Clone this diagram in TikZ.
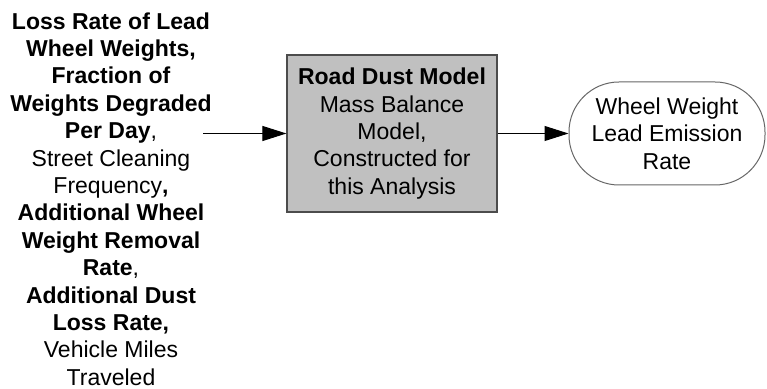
\documentclass[tikz,border=0pt]{standalone}
\usepackage{fontspec}
\setmainfont{Liberation Sans}
\usetikzlibrary{arrows.meta,positioning}
\definecolor{boxgray}{HTML}{C0C0C0}
\tikzset{model/.style={draw=black!70, fill=boxgray, line width=0.6pt,
minimum width=105pt, minimum height=78.5pt, align=center},
outbox/.style={draw=black!60, line width=0.5pt, rounded corners=25pt,
minimum width=98pt, minimum height=51.5pt, align=center},
flow/.style={-{Triangle[length=12pt,width=7.5pt]}, line width=0.5pt}}

\begin{document}
\begin{tikzpicture}[x=0.5pt,y=-0.5pt,font=\fontsize{11.5}{13.7}\selectfont,inner sep=0pt]
	\useasboundingbox (0,0) rectangle (767,389);
	% inputs
	\node[align=center] (inputs) at (111,199) {\textbf{Loss Rate of Lead}\\
		\textbf{Wheel Weights,}\\ \textbf{Fraction of}\\ \textbf{Weights Degraded}\\
		\textbf{Per Day},\\ Street Cleaning\\ Frequency\textbf{,}\\
		\textbf{Additional Wheel}\\ \textbf{Weight Removal}\\ \textbf{Rate},\\
		\textbf{Additional Dust}\\ \textbf{Loss Rate,}\\ Vehicle Miles\\ Traveled};
	\coordinate (start) at (203,133.5);
	% model and result
	\node[model] (dust) at (392,133.5) {\textbf{Road Dust Model}\\ Mass Balance\\
		Model,\\ Constructed for\\ this Analysis};
	\node[outbox] (rate) at (667,133.5) {Wheel Weight\\ Lead Emission\\ Rate};
	\draw[flow] (start) -- (dust);
	\draw[flow] (dust) -- (rate);
\end{tikzpicture}
\end{document}
